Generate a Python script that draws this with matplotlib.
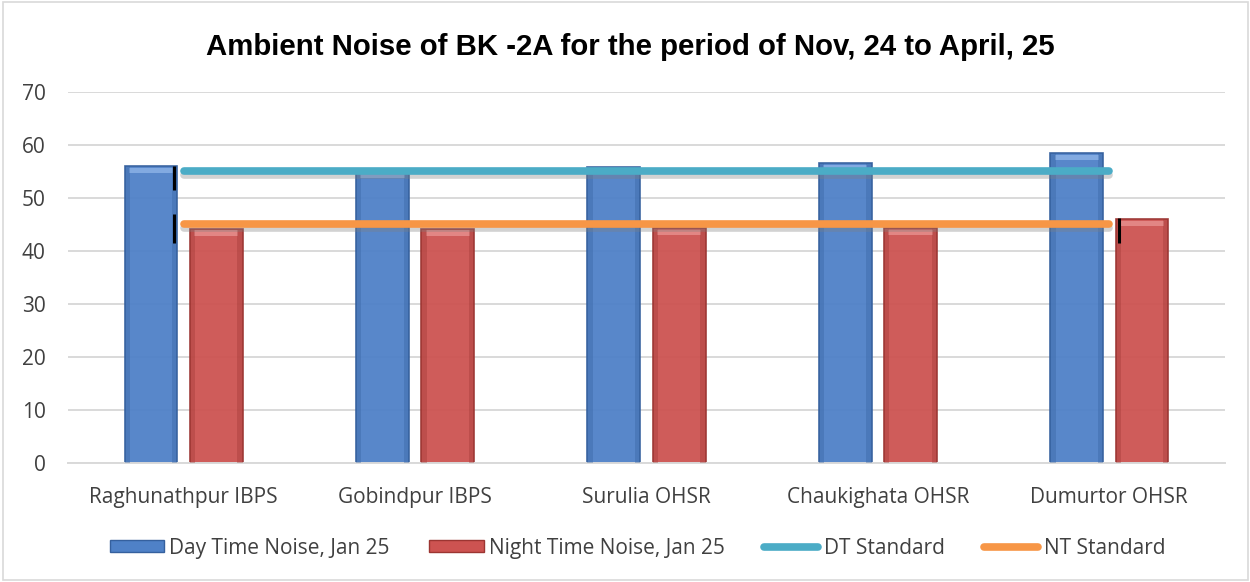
import matplotlib
matplotlib.use("Agg")
import matplotlib.pyplot as plt
import matplotlib.patheffects as pe
from matplotlib.patches import Rectangle, Patch
from matplotlib.lines import Line2D
import numpy as np

categories = ["Raghunathpur IBPS", "Gobindpur IBPS", "Surulia OHSR", "Chaukighata OHSR", "Dumurtor OHSR"]
day_noise = [56.0, 55.0, 55.8, 56.6, 58.5]
night_noise = [44.2, 44.2, 44.3, 44.3, 46.0]
dt_standard = [55, 55, 55, 55, 55]
nt_standard = [45, 45, 45, 45, 45]
yticks = [0, 10, 20, 30, 40, 50, 60, 70]

title = "Ambient Noise of BK -2A for the period of Nov, 24 to April, 25"
series_labels = ["Day Time Noise, Jan 25", "Night Time Noise, Jan 25", "DT Standard", "NT Standard"]

blue = "#4F81C7"
blue_dark = "#35609E"
blue_light = "#8DB3E8"
red = "#CD5351"
red_dark = "#9C3532"
red_light = "#E8918F"
teal = "#4BACC6"
orange = "#F79646"

plt.rcParams['font.family'] = ['Open Sans', 'DejaVu Sans']

fig = plt.figure(figsize=(12.5, 5.82), dpi=100)
ax = fig.add_axes([0.0544, 0.2045, 0.9256, 0.6375])

x = np.arange(len(categories))
w = 0.228
off = 0.141

def draw_bars(xs, vals, col, dark, light):
    bars = ax.bar(xs, vals, width=w, color=col, edgecolor=dark, linewidth=1.2, zorder=2, alpha=0.95)
    for b in bars:
        bx, by = b.get_x(), b.get_height()
        ax.add_patch(Rectangle((bx + w * 0.08, by - 1.3), w * 0.84, 1.0,
                               facecolor=light, edgecolor='none', alpha=0.8, zorder=3))
        ax.add_patch(Rectangle((bx, 0), w * 0.1, by, facecolor=dark, edgecolor='none', alpha=0.35, zorder=3))
        ax.add_patch(Rectangle((bx + w * 0.9, 0), w * 0.1, by, facecolor=dark, edgecolor='none', alpha=0.35, zorder=3))
    return bars

draw_bars(x - off, day_noise, blue, blue_dark, blue_light)
draw_bars(x + off, night_noise, red, red_dark, red_light)

shadow = [pe.SimpleLineShadow(offset=(0, -2.5), shadow_color='gray', alpha=0.35), pe.Normal()]
ax.plot(x, dt_standard, color=teal, linewidth=5.5, solid_capstyle='round', zorder=5, path_effects=shadow)
ax.plot(x, nt_standard, color=orange, linewidth=5.5, solid_capstyle='round', zorder=5, path_effects=shadow)

ax.vlines([-0.04, -0.04, 4.04], [51.5, 41.5, 41.5], [56.0, 47.0, 46.2], color='black', linewidth=2.2, zorder=6)

ax.set_xlim(-0.5, 4.5)
ax.set_ylim(0, 70)
ax.set_yticks(yticks)
ax.set_xticks(x)
ax.set_xticklabels(categories, fontsize=15, color='#404040')
ax.tick_params(axis='y', labelsize=15, labelcolor='#404040', length=0, pad=16)
ax.tick_params(axis='x', length=0, pad=17)
ax.yaxis.grid(True, color='#D9D9D9', linewidth=1.4, zorder=0)
ax.set_axisbelow(True)
for s in ['top', 'right', 'left']:
    ax.spines[s].set_visible(False)
ax.spines['bottom'].set_color('#D9D9D9')
ax.spines['bottom'].set_linewidth(1.4)

fig.text(0.504, 0.92, title, ha='center', va='center', fontsize=21.2, fontweight='bold',
         family=['Liberation Sans', 'DejaVu Sans'], color='black')

handles = [Patch(facecolor=blue, edgecolor=blue_dark), Patch(facecolor=red, edgecolor=red_dark),
           Line2D([0], [0], color=teal, linewidth=5.5, solid_capstyle='round'),
           Line2D([0], [0], color=orange, linewidth=5.5, solid_capstyle='round')]
fig.legend(handles, series_labels, loc='center', bbox_to_anchor=(0.51, 0.058), ncol=4, frameon=False,
           fontsize=15, labelcolor='#404040', handlelength=2.6, handletextpad=0.25, columnspacing=1.9,
           handleheight=0.5)

fig.add_artist(Rectangle((0.002, 0.003), 0.996, 0.994, transform=fig.transFigure, fill=False,
                         edgecolor='#D9D9D9', linewidth=1.2))

fig.savefig("out.png", dpi=100)
